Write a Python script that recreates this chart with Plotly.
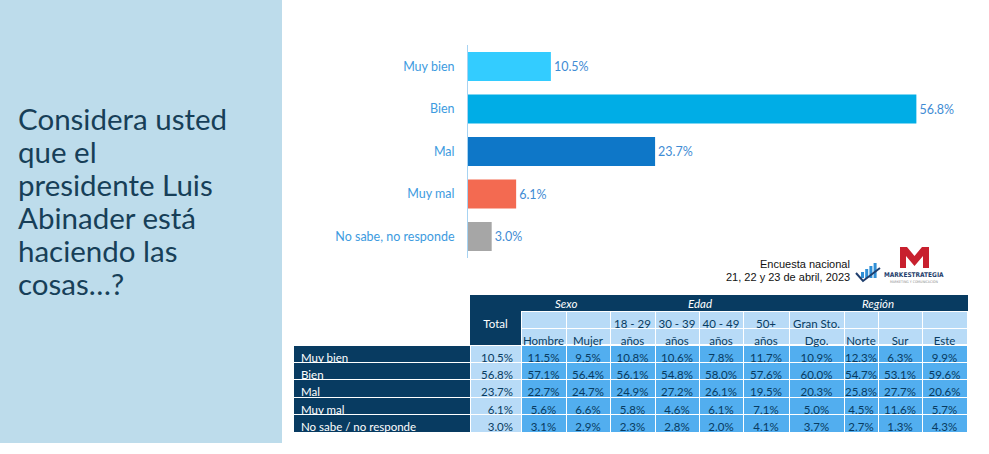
import plotly.graph_objects as go

W, H = 989, 454

question = ["Considera usted", "que el", "presidente Luis", "Abinader está", "haciendo las", "cosas…?"]

answers = ["Muy bien", "Bien", "Mal", "Muy mal", "No sabe, no responde"]
answer_pct = [10.5, 56.8, 23.7, 6.1, 3.0]
answer_colors = ["#33CCFF", "#00ADE6", "#0E77C8", "#F36A51", "#A6A6A6"]

row_labels = ["Muy bien", "Bien", "Mal", "Muy mal", "No sabe / no responde"]
total = [10.5, 56.8, 23.7, 6.1, 3.0]
hombre = [11.5, 57.1, 22.7, 5.6, 3.1]
mujer = [9.5, 56.4, 24.7, 6.6, 2.9]
e18_29 = [10.8, 56.1, 24.9, 5.8, 2.3]
e30_39 = [10.6, 54.8, 27.2, 4.6, 2.8]
e40_49 = [7.8, 58.0, 26.1, 6.1, 2.0]
e50 = [11.7, 57.6, 19.5, 7.1, 4.1]
gran_sd = [10.9, 60.0, 20.3, 5.0, 3.7]
norte = [12.3, 54.7, 25.8, 4.5, 2.7]
sur = [6.3, 53.1, 27.7, 11.6, 1.3]
este = [9.9, 59.6, 20.6, 5.7, 4.3]

groups = ["Sexo", "Edad", "Región"]
group_size = [2, 4, 4]
sub_top = ["", "", "18 - 29", "30 - 39", "40 - 49", "50+", "Gran Sto.", "", "", ""]
sub_bottom = ["Hombre", "Mujer", "años", "años", "años", "años", "Dgo.", "Norte", "Sur", "Este"]
segments = [hombre, mujer, e18_29, e30_39, e40_49, e50, gran_sd, norte, sur, este]

source = ["Encuesta nacional", "21, 22 y 23 de abril, 2023"]

navy = "#083B61"
light = "#B8DBF7"
mid = "#52AEEF"
white = "#FFFFFF"


def px(x):
    return x / W


def py(y):
    return 1 - y / H


def nb(s):
    # non breaking spaces so the table rows keep their height
    return s.replace(" ", "\u00a0")


def pct(v):
    return "%.1f%%" % v


fig = go.Figure()

fig.add_trace(go.Bar(
    x=answer_pct,
    y=answers,
    orientation="h",
    marker=dict(color=answer_colors, line=dict(width=0)),
    texttemplate="%{x:.1f}%",
    textposition="outside",
    textfont=dict(family="Lato", size=12.5, color="#3F8CD4"),
    cliponaxis=False,
    hoverinfo="skip",
))

# table: header = group row + two sub header rows, then the data
n_seg = len(segments)
head_vals = [["", "", ""], ["", nb("Total"), ""]] + [["", nb(t), nb(b)] for t, b in zip(sub_top, sub_bottom)]
head_fill = [[white] * 3, [navy] * 3] + [[navy, light, light]] * n_seg
head_line = [[white] * 3, [navy] * 3] + [[navy, white, white]] * n_seg
head_font = [navy, white] + [navy] * n_seg

cell_vals = [[nb(r) for r in row_labels], [pct(v) for v in total]] + [[pct(v) for v in s] for s in segments]
cell_fill = [navy, light] + [mid] * n_seg
cell_font = [white, navy] + [navy] * n_seg
cell_align = ["left", "right"] + ["center"] * n_seg

widths = [177, 51, 45, 44, 45, 44, 44, 46, 55, 34, 44, 45]
table_x0 = 293
table_top = 295

fig.add_trace(go.Table(
    domain=dict(x=[px(table_x0), px(table_x0 + sum(widths))], y=[0, py(table_top)]),
    columnwidth=widths,
    header=dict(values=head_vals, fill=dict(color=head_fill), line=dict(color=head_line, width=1),
                align="center", height=50 / 3,
                font=dict(family="Lato", size=11.5, color=head_font)),
    cells=dict(values=cell_vals, fill=dict(color=cell_fill), line=dict(color=white, width=1),
               align=cell_align, height=17.4,
               font=dict(family="Lato", size=11.5, color=cell_font)),
))

shapes = [
    # left panel
    dict(type="rect", xref="paper", yref="paper", x0=0, x1=px(282), y0=py(443), y1=1,
         fillcolor="#BDDCEB", line=dict(width=0), layer="below"),
]


def poly(points, color):
    d = "M " + " L ".join("%.5f,%.5f" % (px(a), py(b)) for a, b in points) + " Z"
    return dict(type="path", xref="paper", yref="paper", path=d, fillcolor=color, line=dict(width=0))


# logo: red M
shapes.append(poly([(900, 247), (907, 247), (914.5, 256), (922, 247), (929, 247), (929, 268),
                    (923, 268), (923, 256), (914.5, 266), (906, 256), (906, 268), (900, 268)], "#C8202E"))
# logo: little blue bars + swoosh
for i, top in enumerate([272, 269, 266, 263]):
    x0 = 861 + i * 4.2
    shapes.append(dict(type="rect", xref="paper", yref="paper", x0=px(x0), x1=px(x0 + 3),
                       y0=py(278), y1=py(top), fillcolor="#2F8FD6", line=dict(width=0)))
shapes.append(dict(type="path", xref="paper", yref="paper",
                   path="M %.5f,%.5f L %.5f,%.5f L %.5f,%.5f" % (px(856), py(273), px(863), py(281), px(880), py(268)),
                   line=dict(color="#1F3F6E", width=2)))

annotations = []
for i, line in enumerate(question):
    annotations.append(dict(
        x=px(17), y=py(119 + i * 32.8), xref="paper", yref="paper", xanchor="left", yanchor="middle",
        text=line, showarrow=False, borderpad=0, font=dict(family="Lato", size=29.5, color="#173F58")))

# group labels centred over their columns
edges = [table_x0]
for w in widths:
    edges.append(edges[-1] + w)
first = 2
for g, n in zip(groups, group_size):
    centre = (edges[first] + edges[first + n]) / 2
    annotations.append(dict(
        x=px(centre), y=py(table_top + 8), xref="paper", yref="paper", xanchor="center", yanchor="middle",
        text="<i>%s</i>" % g, showarrow=False, font=dict(family="Lato", size=11.5, color=white)))
    first += n

for i, line in enumerate(source):
    annotations.append(dict(
        x=px(852), y=py(264 + i * 12.5), xref="paper", yref="paper", xanchor="right", yanchor="middle",
        text=line, showarrow=False, font=dict(family="Liberation Sans", size=11, color="#111111")))

annotations.append(dict(x=px(914), y=py(274.5), xref="paper", yref="paper", xanchor="center", yanchor="middle",
                        text="<b>MARKESTRATEGIA</b>", showarrow=False,
                        font=dict(family="DejaVu Sans Condensed", size=6.5, color="#1F3F6E")))
annotations.append(dict(x=px(914), y=py(281.5), xref="paper", yref="paper", xanchor="center", yanchor="middle",
                        text="MARKETING Y COMUNICACIÓN", showarrow=False,
                        font=dict(family="DejaVu Sans Condensed", size=3.5, color="#8A8A8A")))

fig.update_layout(
    width=W, height=H, autosize=False,
    margin=dict(l=0, r=0, t=0, b=0),
    paper_bgcolor="white", plot_bgcolor="white",
    showlegend=False,
    bargap=0.318,
    xaxis=dict(domain=[px(468), 1], range=[0, 66], visible=False, fixedrange=True),
    yaxis=dict(domain=[py(257.75), py(45.25)], autorange="reversed", categoryorder="array",
               categoryarray=answers, showline=True, linecolor="#A7D3F2", linewidth=1,
               showgrid=False, ticks="", ticklabelstandoff=10, fixedrange=True,
               tickfont=dict(family="Lato", size=12.5, color="#3D9BE0")),
    shapes=shapes,
    annotations=annotations,
)

# the page body has a default margin; drop it so the figure sits at the window corner
fig.write_html("out.html", config={"displayModeBar": False},
               post_script="document.body.style.margin='0';document.body.style.overflow='hidden';")
